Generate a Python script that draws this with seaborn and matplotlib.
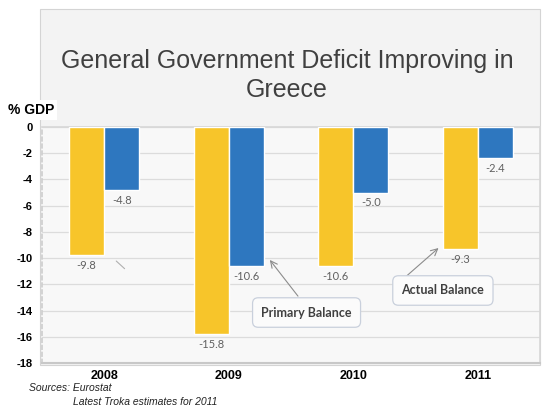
"""
Greece deficit chart: primary vs actual balance (% GDP), 2008-2011
"""
import pandas as pd
import matplotlib
matplotlib.use('Agg')
import matplotlib.pyplot as plt
from matplotlib.patches import Rectangle
import seaborn as sns

years = ['2008', '2009', '2010', '2011']
series = ['Yellow', 'Blue']
yellow_vals = [-9.8, -15.8, -10.6, -9.3]
blue_vals = [-4.8, -10.6, -5.0, -2.4]
y_ticks = list(range(0, -20, -2))

df = pd.DataFrame({
    'year': years * 2,
    'series': [series[0]] * 4 + [series[1]] * 4,
    'value': yellow_vals + blue_vals})

sns.set_theme(style='white')
plt.rcParams['font.family'] = ['Liberation Sans', 'DejaVu Sans']

W, H = 555, 411
fig = plt.figure(figsize=(W / 100, H / 100), dpi=100)
fig.patch.set_facecolor('white')

# gray panel behind title and plot
fig.patches.append(Rectangle((40 / W, 1 - 365 / H), 500 / W, 356 / H,
                             transform=fig.transFigure, facecolor='#f3f3f3',
                             edgecolor='#d4d4d4', lw=0.8, zorder=-10))

ax = fig.add_axes([42 / W, 1 - 363 / H, 498 / W, 236 / H])
ax.set_facecolor('#f8f8f8')

sns.barplot(data=df, x='year', y='value', hue='series', palette=['#f7c52a', '#2e77bf'],
            width=0.565, gap=0, saturation=1, legend=False, ax=ax, zorder=3)

for cont in ax.containers:
    ax.bar_label(cont, fmt='%.1f', padding=3.5, color='#606060', fontsize=8,
                 family=['Lato', 'DejaVu Sans'])

ax.set_ylim(-18, 0)
ax.set_xlim(-0.5, 3.5)
ax.set_yticks(y_ticks)
ax.set_yticklabels([str(t) for t in y_ticks], fontsize=8, fontweight='bold', color='black')
ax.set_xticks(range(len(years)))
ax.set_xticklabels(years, fontsize=9, fontweight='bold', color='black')
ax.tick_params(axis='both', length=0)
ax.tick_params(axis='y', pad=7)
ax.tick_params(axis='x', pad=5)
ax.set_xlabel('')
ax.set_ylabel('')
ax.yaxis.grid(True, color='#dcdcdc', lw=0.9, zorder=0)
ax.set_axisbelow(True)
for s in ['top', 'right']:
    ax.spines[s].set_color('#d8d8d8')
ax.spines['left'].set_color('#cfcfcf')
ax.spines['left'].set_linestyle((0, (2, 2)))
ax.spines['bottom'].set_color('#c8c8c8')
ax.spines['bottom'].set_linewidth(1.5)

# callouts
box = dict(boxstyle='round,pad=0.7,rounding_size=0.45', fc='#fbfbfb', ec='#c9d0dc', lw=0.9)
arrow = dict(arrowstyle='->', color='#8c8c8c', lw=0.8, shrinkA=0, shrinkB=0)
ax.annotate('', xy=(1.33, -10.14), xytext=(1.556, -12.9), arrowprops=arrow, zorder=5)
ax.text(1.625, -14.15, 'Primary Balance', ha='center', va='center', fontsize=9,
        fontweight='bold', color='#404040', family=['Lato', 'DejaVu Sans'], bbox=box, zorder=6)
ax.annotate('', xy=(2.685, -9.23), xytext=(2.43, -11.35), arrowprops=arrow, zorder=5)
ax.text(2.72, -12.47, 'Actual Balance', ha='center', va='center', fontsize=9,
        fontweight='bold', color='#404040', family=['Lato', 'DejaVu Sans'], bbox=box, zorder=6)
ax.annotate('', xy=(0.18, -10.95), xytext=(0.08, -10.08),
            arrowprops=dict(arrowstyle='-', color='#b0b0b0', lw=0.8))

fig.text(287 / W, 1 - 61 / H, 'General Government Deficit Improving in', ha='center',
         va='center', fontsize=18, color='#404040')
fig.text(287 / W, 1 - 90 / H, 'Greece', ha='center', va='center', fontsize=18, color='#404040')
fig.text(8 / W, 1 - 110 / H, '% GDP', ha='left', va='center', fontsize=10, fontweight='bold',
         color='black', bbox=dict(fc='white', ec='none', pad=2))
fig.text(29 / W, 1 - 388 / H, 'Sources: Eurostat', ha='left', va='center', fontsize=7.5,
         style='italic', color='#222222')
fig.text(73 / W, 1 - 402 / H, 'Latest Troka estimates for 2011', ha='left', va='center',
         fontsize=7.5, style='italic', color='#222222')

fig.savefig('out.png', dpi=100)
